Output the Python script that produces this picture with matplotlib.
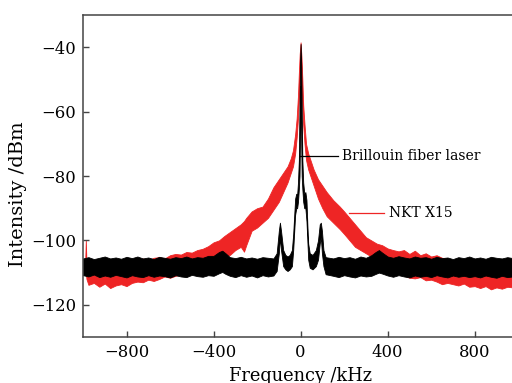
import matplotlib
matplotlib.use("Agg")
import matplotlib.pyplot as plt

# spectre NKT X15 (rouge) : frequence kHz, enveloppe haute, enveloppe basse (dBm)
f_nkt = [-990, -987, -984, -975, -950, -925, -900, -875, -850, -825, -800, -775, -750,
         -725, -700, -675, -650, -625, -600, -575, -550, -525, -500, -475, -450, -425,
         -400, -375, -350, -325, -300, -275, -260, -250, -225, -200, -175, -150, -125,
         -100, -80, -60, -45, -35, -25, -18, -12, -8, -4, 0, 4, 8, 12, 18, 25, 35, 50,
         60, 80, 100, 120, 150, 180, 200, 225, 250, 275, 300, 325, 350, 375, 400, 425,
         450, 475, 500, 525, 550, 575, 600, 625, 650, 675, 700, 725, 750, 775, 800, 825,
         850, 875, 900, 925, 950, 975, 1000]
nkt_hi = [-107, -100, -107, -106.5, -107.2, -106, -107, -106.8, -107.3, -106.2, -106.8, -106.4, -106.6,
          -105.6, -106.2, -105.4, -105.2, -105.6, -104.6, -104.2, -104.4, -103.6, -103.8, -103, -102.6, -101.8,
          -100.6, -100, -98.6, -97.4, -96.2, -95, -94, -93, -91, -90, -89.5, -87, -83.5,
          -81, -79, -77, -74.5, -72, -67, -62, -55, -48, -42, -38.5, -43, -50, -58, -64, -70, -73, -76,
          -78, -81, -83, -85, -87.5, -89.5, -91, -93, -95, -97, -99, -100, -101, -101.5, -102.5, -103,
          -103.4, -103, -104.2, -103.2, -104.6, -104, -105, -104.6, -105.4, -105.6, -106.4, -106, -107, -106.4, -107.6, -107,
          -107.6, -107.8, -107.4, -108, -107.6, -108.2, -108]
nkt_lo = [-110, -110, -112, -113.8, -113.2, -114.4, -113.4, -114.8, -114, -113.6, -114.2, -113.2, -112.8,
          -113, -112.2, -112.6, -112, -111.2, -111.6, -111, -110.6, -110.2, -109.4, -109, -108.6, -108,
          -107, -106, -105, -104.5, -103, -102, -103.5, -101.5, -97, -96, -94.5, -93, -90.5,
          -88, -85, -82, -79, -77, -73, -68, -62, -56, -50, -45, -51, -58, -64, -70, -75, -78, -81,
          -83, -87, -90, -92.5, -94.5, -96.5, -98, -100, -102, -103, -104, -105, -106, -106.5, -108, -109,
          -110.2, -110.8, -111.6, -111.8, -111.4, -112.4, -112.2, -112.8, -113.6, -113.2, -113.6, -114, -113.4, -114.4, -114.2, -114.8,
          -114.2, -115.2, -114.6, -115, -114.4, -114.6, -115]

# laser Brillouin (noir)
f_bfl = [-1000, -975, -950, -925, -900, -875, -850, -825, -800, -775, -750, -725, -700, -675,
         -650, -625, -600, -575, -550, -525, -500, -475, -450, -425, -400, -375, -360, -345,
         -325, -300, -275, -250, -225, -200, -175, -150, -125, -110, -100, -95, -90, -80, -70,
         -60, -50, -40, -34, -30, -25, -20, -16, -12, -8, -5, -3, 0, 3, 5, 8, 12, 17, 22, 27,
         31, 35, 42, 55, 70, 80, 88, 93, 98, 105, 115, 150, 175, 200, 225, 250, 275, 300, 325,
         345, 360, 375, 400, 425, 450, 475, 500, 525, 550, 575, 600, 625, 650, 675, 700, 725,
         750, 775, 800, 825, 850, 875, 900, 925, 950, 975, 1000]
bfl_hi = [-105.6, -105.2, -105.8, -105.4, -105, -105.6, -105.3, -105.7, -105.1, -105.5, -105, -105.6, -105.3, -105.8,
          -105.1, -105.4, -105.7, -105.2, -105.5, -105, -105.6, -105.2, -105.4, -104.8, -104.8, -103.6, -103.2, -104,
          -105.2, -105.5, -105.1, -105.6, -105.3, -105.7, -105.2, -105.4, -105.6, -104, -97, -94.5, -97, -103, -104.5,
          -105, -104.5, -103, -98, -93, -87, -85.5, -86, -82, -75, -58, -46, -39, -46, -58, -75, -82, -85.5, -85, -87.5,
          -95, -101, -104, -104.5, -103, -100, -95, -94.5, -97, -103, -105.2, -105.6, -105.1, -105.5, -105.2, -105.7, -105, -105.4, -104.6,
          -103.6, -103, -103.8, -105, -105.4, -104.9, -105.3, -105.6, -105, -105.4, -105.2, -105.7, -105.1, -105.5, -105.3, -105.8, -105.2,
          -105.5, -105, -105.6, -105.3, -105.7, -105.1, -105.4, -105.6, -105.2, -105.5, -105.6]
bfl_lo = [-110.8, -111.2, -110.6, -111.4, -110.9, -111.3, -110.7, -111.1, -111.5, -110.8, -111.2, -111.4, -110.8, -111.3,
          -110.9, -111.1, -111.5, -110.8, -111.2, -111.4, -110.7, -111.1, -111.3, -110.8, -111, -110.2, -109.8, -110.4,
          -111, -111.4, -110.8, -111.3, -110.9, -111.5, -110.8, -111.2, -110.9, -109.5, -104, -99, -103, -108, -109,
          -109.5, -109, -108, -103, -98, -92, -90, -90, -88, -84, -80, -70, -52, -70, -80, -84, -88, -90, -90, -94,
          -100, -106, -108.5, -109, -108, -106, -101, -99, -104, -108, -110.5, -111, -111.4, -110.8, -111.2, -111.5, -110.9, -111.2, -111,
          -110.4, -110, -110.3, -110.9, -111.3, -110.8, -111.2, -111.5, -110.9, -111.3, -111, -111.4, -110.8, -111.2, -111.5, -110.9, -111.3,
          -111, -111.4, -111.1, -111.5, -110.9, -111.3, -111.6, -111, -111.4, -111.2, -111.4]

plt.rcParams['font.family'] = ['DejaVu Serif']

fig = plt.figure(figsize=(5.12, 3.83), dpi=100)
ax = fig.add_axes([0.1621, 0.1201, 0.850, 0.8407])

ax.fill_between(f_nkt, nkt_lo, nkt_hi, color='#ee2525', lw=0.6)
ax.fill_between(f_bfl, bfl_lo, bfl_hi, color='black', lw=0.6)

# annotations
ax.plot([-3, 172], [-73.8, -73.8], color='black', lw=0.9)
ax.text(190, -73.8, 'Brillouin fiber laser', fontsize=10, va='center', ha='left')
ax.plot([222, 383], [-91.5, -91.5], color='#ee2525', lw=0.9)
ax.text(405, -91.5, 'NKT X15', fontsize=10, va='center', ha='left')

ax.set_xlim(-1000, 1000)
ax.set_ylim(-130, -30)
ax.set_xticks([-800, -400, 0, 400, 800])
ax.set_yticks([-120, -100, -80, -60, -40])
ax.tick_params(direction='in', length=4, width=1, labelsize=11.8, color='#444444', pad=5)
for s in ax.spines.values():
    s.set_color('#444444')
    s.set_linewidth(1.1)

ax.set_xlabel('Frequency /kHz', fontsize=12.8, labelpad=4)
ax.set_ylabel('Intensity /dBm', fontsize=14)
ax.yaxis.set_label_coords(-0.128, 0.444)

fig.savefig('out.png', dpi=100)
